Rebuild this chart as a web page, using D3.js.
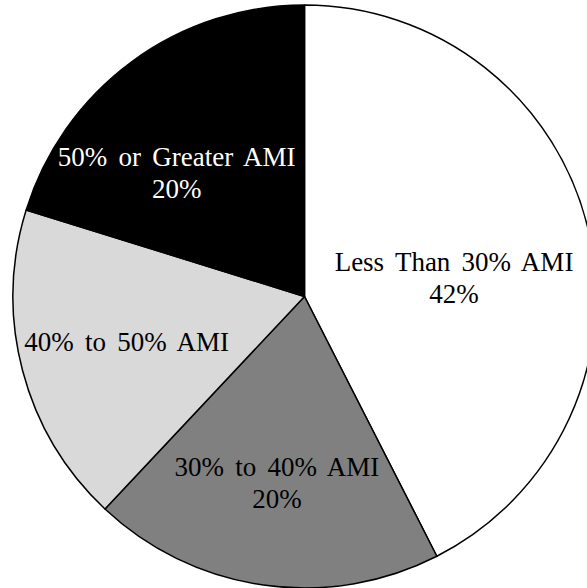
<!DOCTYPE html>
<html><head><meta charset="utf-8">
<script src="https://cdn.jsdelivr.net/npm/d3@7"></script>
<style>html,body{margin:0;padding:0;background:#fff;}</style>
</head><body>
<svg id="chart" width="587" height="588"></svg>
<script>
const categories = ["Less Than 30% AMI", "30% to 40% AMI", "40% to 50% AMI", "50% or Greater AMI"];
const values = [42.5, 19.5, 17.8, 20.2];
const percentLabels = ["42%", "20%", "", "20%"];
const colors = ["#ffffff", "#808080", "#d9d9d9", "#000000"];
const textColors = ["#000", "#000", "#000", "#fff"];

const svg = d3.select("#chart");
const cx = 304.5, cy = 296.5, R = 291.5;
const g = svg.append("g").attr("transform", `translate(${cx},${cy})`);

const pie = d3.pie().sort(null).value(d => d)(values);
const arc = d3.arc().innerRadius(0).outerRadius(R);

g.selectAll("path").data(pie).join("path")
  .attr("d", arc)
  .attr("fill", (d, i) => colors[i])
  .attr("stroke", "#000")
  .attr("stroke-width", 1.5)
  .attr("stroke-linejoin", "round");

// label placement (angle offset from slice mid, radius) like the source's best-fit
const labelAngleShift = [6.6, 0.3, 0.5, -9.7];
const labelR = [150.6, 188.9, 183.6, 177.6];
const lineH = 32;
pie.forEach((d, i) => {
  const mid = (d.startAngle + d.endAngle) / 2 + labelAngleShift[i] * Math.PI / 180;
  const x = Math.sin(mid) * labelR[i];
  const y = -Math.cos(mid) * labelR[i];
  const lines = [categories[i]];
  if (percentLabels[i]) lines.push(percentLabels[i]);
  const t = g.append("text")
    .attr("text-anchor", "middle")
    .attr("font-family", "'Liberation Serif', 'Times New Roman', serif")
    .attr("font-size", 27)
    .attr("word-spacing", 4.5)
    .attr("fill", textColors[i]);
  const y0 = y - (lines.length - 1) * lineH / 2;
  lines.forEach((s, k) => {
    t.append("tspan").attr("x", x).attr("y", y0 + k * lineH).attr("dy", "0.33em").text(s);
  });
});
</script>
</body></html>
